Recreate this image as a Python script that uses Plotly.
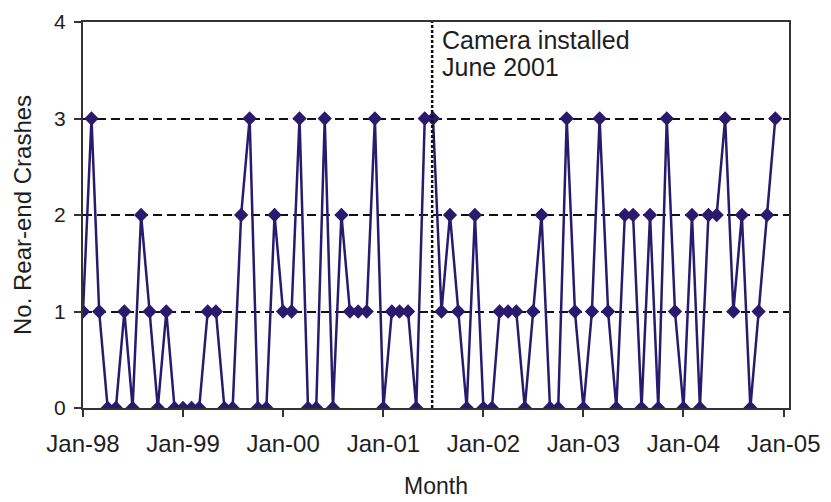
import plotly.graph_objects as go
import pandas as pd

months = pd.date_range("1998-01-01", "2004-12-01", freq="MS").strftime("%Y-%m-%d").tolist()
crashes = [
    1, 3, 1, 0, 0, 1, 0, 2, 1, 0, 1, 0,   # 1998
    0, 0, 0, 1, 1, 0, 0, 2, 3, 0, 0, 2,   # 1999
    1, 1, 3, 0, 0, 3, 0, 2, 1, 1, 1, 3,   # 2000
    0, 1, 1, 1, 0, 3, 3, 1, 2, 1, 0, 2,   # 2001
    0, 0, 1, 1, 1, 0, 1, 2, 0, 0, 3, 1,   # 2002
    0, 1, 3, 1, 0, 2, 2, 0, 2, 0, 3, 1,   # 2003
    0, 2, 0, 2, 2, 3, 1, 2, 0, 1, 2, 3,   # 2004
]
tick_vals = ["1998-01-01", "1999-01-01", "2000-01-01", "2001-01-01",
             "2002-01-01", "2003-01-01", "2004-01-01", "2005-01-01"]
tick_text = ["Jan-98", "Jan-99", "Jan-00", "Jan-01", "Jan-02", "Jan-03", "Jan-04", "Jan-05"]
camera_date = "2001-06-28"
camera_lines = ["Camera installed", "June 2001"]
x_title = "Month"
y_title = "No. Rear-end Crashes"

navy = "#2A1A6E"
txt = "#1e1e1e"
font_fam = "Liberation Sans, Arial, sans-serif"

fig = go.Figure()
fig.add_trace(go.Scatter(
    x=months, y=crashes, mode="lines+markers",
    line=dict(color=navy, width=2.5),
    marker=dict(symbol="diamond", size=11, color=navy),
    cliponaxis=True, showlegend=False,
))

fig.add_shape(type="line", xref="x", yref="paper", x0=camera_date, x1=camera_date,
              y0=0, y1=1, line=dict(color="#111111", width=2.5, dash="3px,2px"))
for line_txt, ys in zip(camera_lines, [-18, -45]):
    fig.add_annotation(x=camera_date, xref="x", y=1, yref="paper", text=line_txt,
                       showarrow=False, xanchor="left", yanchor="middle", align="left",
                       xshift=8, yshift=ys,
                       font=dict(family=font_fam, size=25, color=txt))

fig.add_annotation(x=0.5, xref="paper", y=0, yref="paper", text=x_title,
                   showarrow=False, xanchor="center", yanchor="middle", yshift=-78,
                   font=dict(family=font_fam, size=23, color=txt))
fig.add_annotation(x=0, xref="paper", y=0.5, yref="paper", text=y_title,
                   showarrow=False, xanchor="center", yanchor="middle", xshift=-61,
                   textangle=-90,
                   font=dict(family=font_fam, size=24, color=txt))

fig.update_layout(
    width=823, height=494,
    margin=dict(l=75, r=42, t=14, b=94),
    plot_bgcolor="white", paper_bgcolor="white",
    font=dict(family=font_fam, size=22, color=txt),
    xaxis=dict(
        range=["1998-01-01", "2005-01-20"],
        tickvals=tick_vals, ticktext=tick_text,
        ticks="outside", ticklen=7, tickwidth=2, tickcolor="#333333",
        showline=True, linecolor="#333333", linewidth=2, mirror=True,
        showgrid=False, zeroline=False, automargin=False,
        tickfont=dict(size=24), ticklabelstandoff=6,
    ),
    yaxis=dict(
        range=[0, 4], tickvals=[0, 1, 2, 3, 4],
        ticks="outside", ticklen=7, tickwidth=2, tickcolor="#333333",
        showline=True, linecolor="#333333", linewidth=2, mirror=True,
        showgrid=True, gridcolor="#111111", gridwidth=2, griddash="9px,5px",
        zeroline=False, automargin=False,
        tickfont=dict(size=21), ticklabelstandoff=4,
    ),
)

fig.write_html("out.html")
